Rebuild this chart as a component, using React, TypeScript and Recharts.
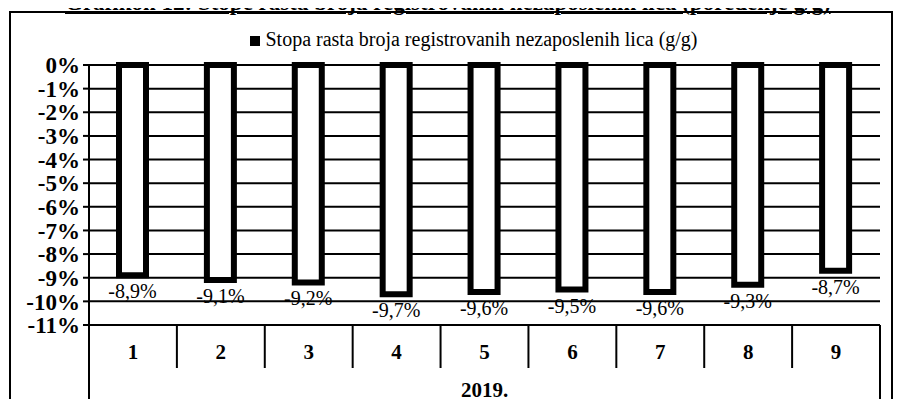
import { BarChart, Bar, XAxis, YAxis, CartesianGrid, Legend, LabelList } from "recharts";

const months = ["1", "2", "3", "4", "5", "6", "7", "8", "9"];
const growthRate = [-8.9, -9.1, -9.2, -9.7, -9.6, -9.5, -9.6, -9.3, -8.7];
const yTicks = [0, -1, -2, -3, -4, -5, -6, -7, -8, -9, -10, -11];
const yearLabel = "2019.";
const seriesName = "Stopa rasta broja registrovanih nezaposlenih lica (g/g)";
const chartTitle = "Grafikon 12: Stope rasta broja registrovanih nezaposlenih lica (poređenje g/g)";

const data = months.map((m, i) => ({ month: m, rate: growthRate[i] }));

const FONT = '"Liberation Serif", "Times New Roman", serif';
const PLOT_LEFT = 89;
const PLOT_RIGHT = 880;
const PLOT_BOTTOM = 325;
const BAND = (PLOT_RIGHT - PLOT_LEFT) / months.length;

function CategoryTick(props: any) {
  const { x, payload, index } = props;
  const top = PLOT_BOTTOM;
  return (
    <g>
      <text x={x} y={top + 34} textAnchor="middle" fontFamily={FONT} fontWeight="bold" fontSize={21} fill="#000">
        {payload.value}
      </text>
      {index < months.length - 1 ? (
        <line x1={x + BAND / 2} x2={x + BAND / 2} y1={top} y2={top + 43} stroke="#000" strokeWidth={2} />
      ) : (
        <line x1={x + BAND / 2} x2={x + BAND / 2} y1={top} y2={407} stroke="#000" strokeWidth={2} />
      )}
      {index === 0 && <line x1={PLOT_LEFT} x2={PLOT_LEFT} y1={top} y2={407} stroke="#000" strokeWidth={2} />}
    </g>
  );
}

function ValueLabel(props: any) {
  const { x, y, width, height, value } = props;
  const bottom = Math.max(y, y + height);
  return (
    <text x={x + width / 2} y={bottom + 23} textAnchor="middle" fontFamily={FONT} fontSize={20} fill="#000">
      {`${String(value).replace(".", ",")}%`}
    </text>
  );
}

function LegendContent() {
  return (
    <div style={{ height: 0, overflow: "visible", position: "relative" }}>
      <div
        style={{
          position: "absolute",
          top: 0,
          left: 0,
          width: "100%",
          textAlign: "center",
          fontFamily: FONT,
          fontSize: 20,
          lineHeight: "24px",
          color: "#000",
          whiteSpace: "nowrap",
        }}
      >
        <span style={{ display: "inline-block", width: 10, height: 10, background: "#000", marginRight: 5 }} />
        {seriesName}
      </div>
    </div>
  );
}

export default function App() {
  return (
    <div style={{ position: "relative", margin: -8, width: 906, height: 407, overflow: "hidden", background: "#fff" }}>
      <div
        style={{
          position: "absolute",
          top: -10,
          left: 65,
          fontFamily: FONT,
          fontSize: 23,
          fontWeight: "bold",
          textDecoration: "underline",
          whiteSpace: "nowrap",
          color: "#000",
        }}
      >
        {chartTitle}
      </div>
      <div
        style={{
          position: "absolute",
          top: 11,
          left: 9,
          width: 884,
          height: 420,
          border: "2px solid #000",
          boxSizing: "border-box",
        }}
      />
      <div style={{ position: "absolute", top: 0, left: 0 }}>
        <BarChart
          width={906}
          height={407}
          data={data}
          margin={{ top: 65, right: 906 - PLOT_RIGHT, bottom: 0, left: 10 }}
          barSize={27}
        >
          <CartesianGrid horizontal vertical={false} stroke="#000" strokeWidth={2} />
          <Legend
            verticalAlign="top"
            content={<LegendContent />}
            wrapperStyle={{ top: 27, left: 0, width: 948, height: 0 }}
          />
          <XAxis
            dataKey="month"
            height={82}
            axisLine={{ stroke: "#000", strokeWidth: 2 }}
            tickLine={false}
            interval={0}
            tick={<CategoryTick />}
            label={{
              value: yearLabel,
              position: "insideBottom",
              offset: 10,
              style: { fontFamily: FONT, fontSize: 21, fontWeight: "bold", fill: "#000" },
            }}
          />
          <YAxis
            width={79}
            domain={[-11, 0]}
            ticks={yTicks}
            interval={0}
            axisLine={{ stroke: "#000", strokeWidth: 2 }}
            tickLine={{ stroke: "#000", strokeWidth: 2 }}
            tickSize={6}
            tickMargin={3}
            tickFormatter={(v) => `${v}%`}
            tick={{ fontFamily: FONT, fontSize: 23, fontWeight: "bold", fill: "#000" }}
          />
          <Bar dataKey="rate" name={seriesName} fill="#fff" stroke="#000" strokeWidth={6} isAnimationActive={false}>
            <LabelList dataKey="rate" content={<ValueLabel />} />
          </Bar>
        </BarChart>
      </div>
    </div>
  );
}
